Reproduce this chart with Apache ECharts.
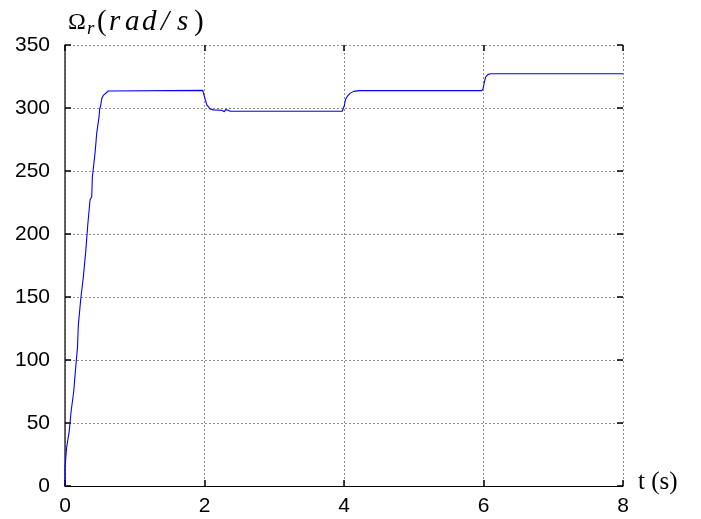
<!DOCTYPE html>
<html>
<head>
<meta charset="utf-8">
<script src="https://cdn.jsdelivr.net/npm/echarts@6/dist/echarts.min.js"></script>
<style>
  html, body { margin: 0; padding: 0; background: #fff; }
  #chart { width: 701px; height: 519px; }
</style>
</head>
<body>
<div id="chart"></div>
<script>
// Rotor speed response: start-up, load change at 2 s, then speed steps at 4 s and 6 s.
const startupTime = [0, 0, 0.014, 0.022, 0.043, 0.062, 0.076, 0.086, 0.108, 0.125, 0.143, 0.154, 0.172, 0.179,
  0.191, 0.205, 0.225, 0.248, 0.263, 0.287, 0.297, 0.311, 0.326, 0.349, 0.359, 0.383, 0.392, 0.416, 0.430,
  0.445, 0.455, 0.469, 0.488, 0.498, 0.512, 0.527, 0.549, 0.574, 0.621, 0.646, 1.975];
const startupSpeed = [0, 14, 15.5, 30, 31, 44, 45.5, 58.5, 60, 75, 76, 94.5, 95.5, 110,
  127.5, 129, 148, 149, 166, 167.5, 186, 187, 207, 208, 227, 229.5, 245, 246.5, 264,
  265, 280, 281, 293, 299.5, 302, 307.5, 310, 311.5, 313.5, 314, 314];

const dipTime = [1.994, 2.009, 2.033, 2.080, 2.128, 2.248, 2.26, 2.27, 2.285, 2.30, 2.315, 2.33, 2.345, 2.37, 3.975];
const dipSpeed = [312.5, 307, 302.5, 299.3, 298.5, 298.2, 297.3, 298.8, 297.1, 298.7, 297.2, 298.4, 297.3, 297.4, 297.4];

const stepTime4 = [3.995, 4.005, 4.02, 4.05, 4.09, 4.14, 4.22, 5.975];
const stepSpeed4 = [298, 302, 306.5, 309.5, 311.8, 313.2, 313.8, 313.8];

const stepTime6 = [5.995, 6.01, 6.03, 6.06, 6.1, 8];
const stepSpeed6 = [315.5, 320, 324.5, 326.5, 327.2, 327.2];

const xTicks = [0, 2, 4, 6, 8];
const yTicks = [0, 50, 100, 150, 200, 250, 300, 350];

const timeAll = [].concat(startupTime, dipTime, stepTime4, stepTime6);
const speedAll = [].concat(startupSpeed, dipSpeed, stepSpeed4, stepSpeed6);
const speedData = timeAll.map((t, i) => [t, speedAll[i]]);

const chart = echarts.init(document.getElementById('chart'), null, { renderer: 'canvas' });

const gridLine = { show: true, lineStyle: { color: '#8c8c8c', width: 1, type: [2, 2] } };
const tickStyle = { show: true, inside: true, length: 6, lineStyle: { color: '#000', width: 1.5 } };
const labelFont = { fontFamily: 'Liberation Sans, Arial, sans-serif', fontSize: 21, color: '#000' };
const serif = 'Liberation Serif, serif';

chart.setOption({
  animation: false,
  backgroundColor: '#fff',
  grid: { left: 65, right: 78, top: 45, bottom: 33, containLabel: false },
  xAxis: [
    {
      type: 'value', min: xTicks[0], max: xTicks[xTicks.length - 1], interval: 2, position: 'bottom',
      axisLine: { show: true, onZero: false, lineStyle: { color: '#000', width: 1 } },
      axisTick: tickStyle,
      axisLabel: Object.assign({ margin: 10 }, labelFont),
      splitLine: gridLine
    },
    {
      type: 'value', min: xTicks[0], max: xTicks[xTicks.length - 1], interval: 2, position: 'top',
      axisLine: { show: true, onZero: false, lineStyle: { color: 'rgba(0,0,0,0)' } },
      axisTick: tickStyle, axisLabel: { show: false }, splitLine: { show: false }
    }
  ],
  yAxis: [
    {
      type: 'value', min: yTicks[0], max: yTicks[yTicks.length - 1], interval: 50, position: 'left',
      axisLine: { show: true, onZero: false, lineStyle: { color: '#333', width: 1.5 } },
      axisTick: tickStyle,
      axisLabel: Object.assign({ margin: 15 }, labelFont),
      splitLine: gridLine
    },
    {
      type: 'value', min: yTicks[0], max: yTicks[yTicks.length - 1], interval: 50, position: 'right',
      axisLine: { show: true, onZero: false, lineStyle: { color: 'rgba(0,0,0,0)' } },
      axisTick: tickStyle, axisLabel: { show: false }, splitLine: { show: false }
    }
  ],
  graphic: [
    {
      type: 'text', left: 68, top: 8,
      style: {
        text: '{o|Ω}{sub|r}{p|(}{r|r}{a|a}{d|d}{sl|/}{s|s}{p|)}',
        rich: {
          o: { fontFamily: serif, fontSize: 24, width: 19, fill: '#000' },
          sub: { fontFamily: serif, fontStyle: 'italic', fontSize: 19, width: 10, padding: [12, 0, 0, 0], fill: '#000' },
          p: { fontFamily: serif, fontSize: 29, width: 12, fill: '#000' },
          r: { fontFamily: serif, fontStyle: 'italic', fontSize: 29, width: 16, fill: '#000' },
          a: { fontFamily: serif, fontStyle: 'italic', fontSize: 29, width: 17, fill: '#000' },
          d: { fontFamily: serif, fontStyle: 'italic', fontSize: 29, width: 19, fill: '#000' },
          sl: { fontFamily: serif, fontStyle: 'italic', fontSize: 29, width: 16, fill: '#000' },
          s: { fontFamily: serif, fontStyle: 'italic', fontSize: 29, width: 17, fill: '#000' }
        }
      }
    },
    {
      type: 'text', left: 638, top: 470,
      style: { text: 't (s)', fontFamily: serif, fontSize: 25, fill: '#000' }
    }
  ],
  series: [
    {
      type: 'line', xAxisIndex: 0, yAxisIndex: 0,
      data: speedData, showSymbol: false, symbol: 'none',
      lineStyle: { color: '#0000ff', width: 1.1 }
    }
  ]
});
</script>
</body>
</html>
